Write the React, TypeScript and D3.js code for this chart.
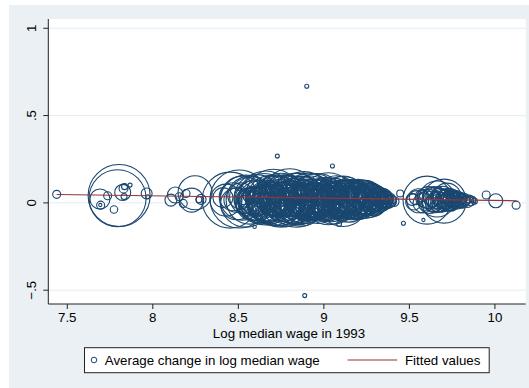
import * as d3 from "d3";

// [log median wage 1993, avg change in log median wage, weight]
type Pt = [number, number, number];

const lowWageGroup: Pt[] = [
  [7.438, 0.049, 16],
  [7.803, 0.042, 961],
  [7.794, 0.027, 812],
  [7.691, 0.022, 100],
  [7.695, -0.013, 16],
  [7.693, -0.012, 2],
  [7.773, -0.038, 14],
  [7.736, 0.041, 16],
  [7.824, 0.06, 64],
  [7.829, 0.082, 20],
  [7.835, 0.093, 9],
  [7.867, 0.102, 4],
  [7.832, 0.036, 9],
  [7.964, 0.054, 30],
  [7.97, 0.035, 4],
];

const midGroup: Pt[] = [
  [8.106, 0.016, 36],
  [8.132, 0.045, 64],
  [8.154, 0.035, 16],
  [8.178, -0.003, 16],
  [8.194, 0.054, 16],
  [8.247, 0.058, 289],
  [8.227, 0.016, 144],
  [8.282, 0.02, 25],
  [8.27, 0.018, 9],
];

const denseCluster: Pt[] = [
  [8.452, 0.016, 784], [8.504, 0.022, 841], [8.522, 0.027, 484], [8.545, 0.01, 676],
  [8.569, 0.016, 576], [8.58, 0.022, 324], [8.598, 0.016, 400], [8.604, 0.01, 225],
  [8.615, 0.022, 144], [8.551, 0.016, 100], [8.534, 0.01, 36], [8.486, 0.016, 144],
  [8.428, 0.016, 256], [8.41, 0.03, 100], [8.47, 0.035, 196], [8.49, -0.005, 256],
  [8.515, 0.04, 169], [8.56, 0.035, 361], [8.585, -0.004, 289], [8.61, 0.03, 529],
  [8.62, 0.005, 441], [8.632, 0.04, 64], [8.64, 0.015, 196], [8.65, 0.025, 625],
  [8.66, 0.0, 361],
  [8.66, 0.028, 729], [8.67, 0.012, 400], [8.675, 0.045, 225], [8.68, -0.01, 324],
  [8.69, 0.02, 576], [8.695, 0.055, 121], [8.7, 0.005, 169], [8.705, 0.032, 784],
  [8.71, 0.018, 256], [8.715, -0.02, 100], [8.72, 0.04, 441], [8.725, 0.01, 625],
  [8.73, 0.06, 64], [8.735, 0.025, 361], [8.74, -0.005, 484], [8.745, 0.035, 289],
  [8.75, 0.015, 729], [8.755, 0.05, 144], [8.76, 0.0, 196], [8.765, 0.028, 529],
  [8.77, -0.025, 81], [8.775, 0.042, 400], [8.78, 0.012, 676], [8.785, 0.065, 49],
  [8.79, 0.022, 324], [8.795, -0.012, 225], [8.8, 0.035, 784], [8.805, 0.008, 441],
  [8.81, 0.05, 169], [8.815, 0.018, 576], [8.82, -0.03, 64], [8.825, 0.03, 361],
  [8.83, 0.0, 256], [8.835, 0.045, 484], [8.84, 0.015, 729], [8.845, 0.07, 36],
  [8.85, 0.025, 196], [8.855, -0.01, 400], [8.86, 0.038, 289], [8.865, 0.01, 625],
  [8.87, 0.055, 100], [8.875, 0.02, 529], [8.88, -0.02, 144], [8.885, 0.03, 676],
  [8.89, 0.005, 324], [8.895, 0.042, 225], [8.9, 0.016, 441], [8.905, -0.005, 256],
  [8.91, 0.033, 576], [8.915, 0.06, 81], [8.92, 0.012, 361], [8.925, 0.028, 484],
  [8.93, -0.018, 169], [8.935, 0.04, 289], [8.94, 0.02, 400], [8.945, 0.0, 196],
  [8.95, 0.035, 529], [8.955, 0.05, 121], [8.96, 0.01, 324], [8.965, 0.025, 625],
  [8.97, -0.008, 225], [8.975, 0.038, 256], [8.98, 0.015, 441],
  [8.99, 0.03, 361], [9.0, 0.005, 289], [9.005, 0.045, 144], [9.01, 0.02, 484],
  [9.015, -0.015, 196], [9.02, 0.035, 256], [9.025, 0.012, 400], [9.03, 0.055, 81],
  [9.026, 0.024, 676], [9.045, -0.005, 324], [9.05, 0.03, 225], [9.055, 0.01, 529],
  [9.06, 0.045, 169], [9.065, 0.018, 361], [9.07, -0.02, 121], [9.075, 0.035, 441],
  [9.08, 0.02, 289], [9.112, 0.008, 625], [9.09, 0.05, 100], [9.095, 0.025, 324],
  [9.1, -0.01, 196], [9.105, 0.04, 256], [9.11, 0.015, 400], [9.115, 0.028, 484],
  [9.12, 0.0, 225], [9.125, 0.045, 144], [9.13, 0.02, 361], [9.135, 0.035, 289],
  [9.14, -0.015, 169], [9.145, 0.01, 441], [9.15, 0.03, 324], [9.155, 0.05, 81],
  [9.16, 0.018, 400], [9.165, 0.0, 256], [9.17, 0.038, 196], [9.175, 0.022, 361],
  [9.18, -0.005, 225], [9.185, 0.045, 121], [9.19, 0.012, 324], [9.195, 0.03, 289],
  [9.2, 0.02, 400],
  [9.205, 0.04, 169], [9.21, 0.0, 256], [9.215, 0.025, 324], [9.22, 0.05, 100],
  [9.225, 0.01, 225], [9.23, 0.032, 289], [9.235, -0.01, 144], [9.24, 0.02, 361],
  [9.245, 0.042, 121], [9.25, 0.008, 196], [9.255, 0.028, 256], [9.26, -0.015, 100],
  [9.265, 0.036, 169], [9.27, 0.015, 289], [9.275, 0.0, 121], [9.28, 0.03, 196],
  [9.285, 0.048, 64], [9.29, 0.018, 225], [9.295, -0.005, 144], [9.3, 0.025, 169],
  [9.305, 0.04, 81], [9.31, 0.01, 144], [9.315, 0.028, 121], [9.32, 0.005, 100],
  [9.325, 0.035, 81], [9.33, 0.018, 144], [9.34, 0.0, 64], [9.345, 0.025, 100],
  [9.35, 0.012, 81], [9.355, 0.03, 49], [9.36, 0.02, 64], [9.37, 0.008, 49],
  [9.375, 0.015, 64], [9.39, 0.01, 36], [9.4, 0.018, 16], [9.41, 0.008, 25],
];

// smaller occupations packed inside the main cluster
const denseCore: Pt[] = [
  [8.53, 0.03, 49], [8.54, -0.01, 81], [8.555, 0.05, 36], [8.565, 0.0, 121],
  [8.575, 0.04, 64], [8.59, 0.012, 169], [8.6, 0.055, 25], [8.608, -0.02, 64],
  [8.618, 0.035, 100], [8.625, 0.018, 49], [8.635, -0.008, 144], [8.645, 0.05, 81],
  [8.655, 0.012, 36], [8.662, 0.065, 49], [8.672, -0.025, 64], [8.682, 0.038, 144],
  [8.688, 0.002, 81], [8.698, 0.07, 36], [8.708, -0.035, 49], [8.712, 0.05, 100],
  [8.722, 0.022, 169], [8.728, -0.015, 121], [8.738, 0.075, 25], [8.742, 0.045, 81],
  [8.752, -0.03, 64], [8.758, 0.062, 49], [8.768, 0.008, 144], [8.772, 0.055, 100],
  [8.782, -0.04, 36], [8.788, 0.04, 121], [8.798, 0.068, 64], [8.802, -0.02, 100],
  [8.812, 0.028, 49], [8.818, 0.06, 81], [8.828, -0.035, 49], [8.832, 0.052, 121],
  [8.842, -0.005, 81], [8.848, 0.045, 64], [8.858, 0.075, 36], [8.862, -0.028, 81],
  [8.872, 0.035, 144], [8.878, 0.062, 49], [8.888, -0.012, 100], [8.892, 0.058, 81],
  [8.902, -0.032, 64], [8.908, 0.048, 121], [8.918, 0.02, 49], [8.922, -0.025, 100],
  [8.932, 0.068, 36], [8.938, 0.005, 144], [8.948, 0.055, 64], [8.952, -0.03, 49],
  [8.962, 0.042, 100], [8.968, 0.062, 36], [8.978, -0.02, 81], [8.982, 0.05, 64],
  [8.992, 0.0, 121], [8.998, 0.06, 49], [9.008, -0.028, 64], [9.012, 0.04, 100],
  [9.022, 0.065, 36], [9.028, -0.012, 121], [9.038, 0.048, 81], [9.042, 0.015, 49],
  [9.052, -0.03, 64], [9.058, 0.058, 49], [9.068, 0.002, 144], [9.072, 0.05, 64],
  [9.082, -0.022, 81], [9.088, 0.062, 36], [9.098, 0.01, 100], [9.102, 0.055, 49],
  [9.118, -0.025, 64], [9.122, 0.038, 121], [9.132, 0.06, 36], [9.138, -0.005, 81],
  [9.148, 0.045, 64], [9.152, -0.028, 49], [9.162, 0.055, 49], [9.168, 0.012, 100],
  [9.178, -0.02, 64], [9.182, 0.05, 49], [9.192, 0.025, 81], [9.198, -0.01, 64],
  [9.208, 0.058, 36], [9.218, 0.008, 81], [9.228, 0.045, 49], [9.238, -0.02, 64],
  [9.248, 0.03, 81], [9.258, 0.05, 36], [9.268, 0.002, 64], [9.278, 0.04, 49],
  [9.288, 0.012, 64], [9.298, 0.035, 36], [9.308, -0.008, 49], [9.318, 0.022, 64],
  [9.328, 0.04, 25], [9.338, 0.01, 36], [9.348, 0.03, 25], [9.358, 0.005, 36],
  [9.365, 0.022, 25], [9.38, 0.02, 16],
];

const highWageGroup: Pt[] = [
  [9.516, 0.02, 36], [9.525, 0.005, 64], [9.54, 0.03, 49], [9.555, 0.012, 144],
  [9.57, 0.04, 36], [9.58, 0.0, 100], [9.59, 0.025, 81], [9.603, 0.016, 576],
  [9.61, 0.03, 121], [9.62, 0.008, 144], [9.63, 0.022, 64], [9.64, 0.035, 100],
  [9.645, 0.0, 81], [9.65, 0.018, 169], [9.66, 0.028, 121], [9.662, 0.022, 324],
  [9.67, 0.005, 100], [9.675, 0.04, 64], [9.68, 0.015, 144], [9.685, 0.025, 81],
  [9.69, -0.005, 64], [9.695, 0.032, 121], [9.703, 0.01, 484], [9.71, 0.02, 100],
  [9.715, 0.038, 49], [9.72, 0.033, 196], [9.725, 0.005, 81], [9.73, 0.02, 121],
  [9.735, 0.028, 64], [9.74, 0.012, 100], [9.745, -0.008, 49], [9.75, 0.025, 81],
  [9.755, 0.035, 36], [9.76, 0.01, 64], [9.77, 0.02, 81], [9.775, 0.03, 36],
  [9.78, 0.005, 49], [9.79, 0.018, 64], [9.8, 0.025, 36], [9.81, 0.01, 49],
  [9.82, 0.02, 36], [9.83, 0.015, 25], [9.84, 0.008, 36], [9.85, 0.022, 16],
  [9.86, 0.012, 25], [9.87, 0.018, 9], [9.88, 0.01, 9],
  [9.635, 0.012, 36], [9.655, 0.04, 25], [9.665, 0.0, 36], [9.688, 0.03, 25],
  [9.698, 0.012, 36], [9.708, 0.035, 16], [9.718, 0.0, 36], [9.728, 0.025, 25],
  [9.738, 0.04, 16], [9.748, 0.015, 36], [9.758, 0.0, 25], [9.768, 0.03, 16],
  [9.785, 0.012, 25], [9.795, 0.03, 16], [9.805, 0.0, 25], [9.815, 0.025, 16],
];

const outliers: Pt[] = [
  [8.728, 0.268, 4],
  [9.05, 0.211, 4],
  [8.9, 0.668, 4],
  [8.888, -0.531, 4],
  [8.595, -0.137, 3],
  [9.089, -0.121, 6],
  [9.12, 0.136, 2],
  [9.446, 0.054, 12],
  [9.465, -0.117, 4],
  [9.582, -0.098, 2],
  [9.949, 0.045, 16],
  [10.005, 0.012, 49],
  [10.124, -0.013, 16],
];

const fitX = [7.438, 10.124];
const fitY = [0.048, 0.012];

const xTicks = [7.5, 8, 8.5, 9, 9.5, 10];
const xTickLabels = ["7.5", "8", "8.5", "9", "9.5", "10"];
const yTicks = [-0.5, 0, 0.5, 1];
const yTickLabels = ["\u2212.5", "0", ".5", "1"];

const W = 529;
const H = 388;
const navy = "#1a476f";
const maroon = "#90353b";
const bg = "#eaf0f3";
const font = "'Liberation Sans', Arial, sans-serif";

export default function App() {
  const left = 48.3, right = 525.7, top = 19, bottom = 304;
  const x = d3.scaleLinear().domain([7.389, 10.18]).range([left, right]);
  const y = d3.scaleLinear().domain([-0.579, 1.053]).range([bottom, top]);
  const r = d3.scaleSqrt().domain([0, 100]).range([0, 10]);

  const points = [
    ...lowWageGroup,
    ...midGroup,
    ...denseCluster,
    ...denseCore,
    ...highWageGroup,
    ...outliers,
  ];
  const fitLine = d3
    .line<number>()
    .x((d) => x(d))
    .y((d, i) => y(fitY[i]));

  return (
    <svg
      width={W}
      height={H}
      style={{ position: "absolute", left: 0, top: 0, background: "#fff" }}
      fontFamily={font}
    >
      <rect x={9} y={5} width={W - 9} height={H - 5} fill={bg} />
      <rect x={left} y={top} width={right - left} height={bottom - top} fill="#fff" />

      {/* gridlines */}
      {yTicks.map((t) => (
        <line key={"g" + t} x1={left} x2={right} y1={y(t)} y2={y(t)} stroke="#e4ecef" strokeWidth={1} />
      ))}

      {/* markers */}
      <g fill="none" stroke={navy} strokeWidth={1.1}>
        {points.map((p, i) => (
          <circle key={i} cx={x(p[0])} cy={y(p[1])} r={Math.max(1.6, r(p[2]))} />
        ))}
      </g>

      {/* fitted line */}
      <path d={fitLine(fitX) || ""} fill="none" stroke={maroon} strokeWidth={1.2} />

      {/* axes */}
      <line x1={left} x2={left} y1={top} y2={bottom} stroke="#222" strokeWidth={1} />
      <line x1={left} x2={right} y1={bottom} y2={bottom} stroke="#222" strokeWidth={1} />
      {yTicks.map((t, i) => (
        <g key={"y" + t}>
          <line x1={left - 5} x2={left} y1={y(t)} y2={y(t)} stroke="#222" />
          <text
            transform={`translate(36,${y(t)}) rotate(-90)`}
            textAnchor="middle"
            fontSize={13.3}
            fill="#000"
          >
            {yTickLabels[i]}
          </text>
        </g>
      ))}
      {xTicks.map((t, i) => (
        <g key={"x" + t}>
          <line x1={x(t)} x2={x(t)} y1={bottom} y2={bottom + 5} stroke="#222" />
          <text x={x(t)} y={322} textAnchor="middle" fontSize={13.3} fill="#000">
            {xTickLabels[i]}
          </text>
        </g>
      ))}
      <text x={(left + right) / 2 + 2} y={337.5} textAnchor="middle" fontSize={13.3} fill="#000">
        Log median wage in 1993
      </text>

      {/* legend */}
      <rect x={84.5} y={347.7} width={404.7} height={25} fill="#fff" stroke="#222" strokeWidth={1} />
      <circle cx={94} cy={360} r={2.8} fill="none" stroke={navy} strokeWidth={1} />
      <text x={104.8} y={364.8} fontSize={13.3} fill="#000">
        Average change in log median wage
      </text>
      <line x1={347.5} x2={397.2} y1={360} y2={360} stroke={maroon} strokeWidth={1.2} />
      <text x={405} y={364.8} fontSize={13.3} fill="#000">
        Fitted values
      </text>
    </svg>
  );
}
